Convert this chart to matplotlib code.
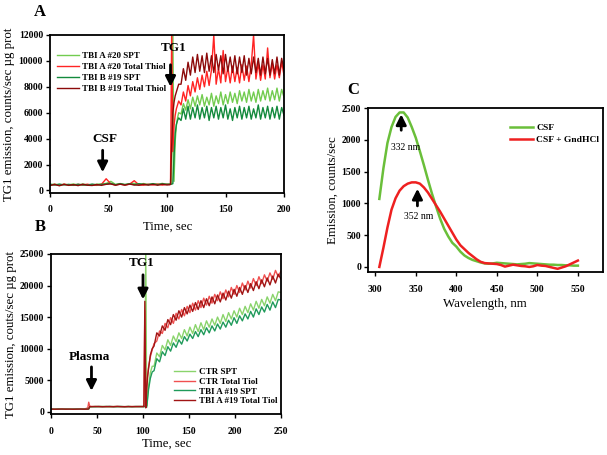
import numpy as np
import matplotlib
matplotlib.use("Agg")
import matplotlib.pyplot as plt

plt.rcParams['font.family'] = ['Liberation Serif', 'DejaVu Serif']
plt.rcParams['font.weight'] = 'bold'

# ---- panel A : TG1 emission vs time (CSF) ----
tA = list(range(0, 101, 4)) + [102, 103, 104, 105, 106, 107, 108, 109, 110] + list(range(112, 201, 2))

a_spt20 = [440, 490, 410, 480, 430, 500, 420, 490, 440, 410, 480, 500, 540, 700, 460, 530, 450, 520, 540, 460, 530, 450, 520, 470, 540, 460,
           500, 510, 520, 12500, 700, 3800, 5000, 5600, 6000,
           5900, 6700, 6200, 7000, 6300, 7200, 6500, 7300, 6600,
           7400, 6500, 7200, 6600, 7500, 6500, 7300, 6700, 7600,
           6600, 7400, 6700, 7600, 6800, 7500, 6700, 7700, 6900,
           7600, 6800, 7800, 6900, 7600, 6800, 7800, 6900, 7700,
           7000, 7900, 6900, 7700, 7000, 7900, 6900, 7800, 7200]
a_tot20 = [400, 470, 380, 480, 410, 390, 470, 400, 480, 410, 390, 470, 900, 500, 420, 490, 410, 480, 750, 430, 400, 480, 420, 490, 410, 480,
           450, 470, 12500, 3000, 5000, 5800, 6300, 6600, 6900,
           6600, 7600, 6900, 8100, 7300, 8400, 7600, 8700, 7800,
           8900, 8000, 9200, 8100, 9300, 12000, 8200, 9400, 8300,
           10800, 8400, 9500, 8300, 9600, 8400, 9500, 8300, 9700,
           8500, 9600, 8400, 9700, 12000, 8600, 9800, 8500, 9700,
           8600, 11000, 8700, 9800, 8600, 9700, 8700, 9900, 8900]
a_spt19 = [480, 410, 490, 420, 470, 400, 480, 420, 410, 490, 430, 460, 500, 540, 440, 520, 450, 510, 440, 520, 460, 450, 520, 440, 510, 470,
           480, 470, 490, 520, 2600, 4400, 5100, 5400, 5600,
           5400, 6300, 5500, 6500, 5500, 6400, 5600, 6600, 5500,
           6400, 5600, 6500, 5400, 6400, 5600, 6500, 5500, 6400,
           5600, 6600, 5500, 6300, 5400, 6400, 5600, 6500, 5500,
           6400, 5600, 6500, 5500, 6300, 5600, 6600, 5500, 6400,
           5600, 6500, 5500, 6400, 5600, 6500, 5500, 6400, 5800]
a_tot19 = [380, 460, 360, 470, 390, 450, 370, 480, 400, 380, 460, 390, 470, 500, 400, 480, 410, 490, 420, 400, 480, 410, 470, 400, 480, 420,
           440, 460, 3500, 6000, 6800, 7300, 7600, 7900, 8200,
           8200, 9400, 8500, 9900, 8900, 10300, 9100, 10500, 9200,
           10400, 9100, 10600, 9200, 10400, 9100, 10500, 9300, 10400,
           9000, 10500, 9200, 10300, 9100, 10400, 9000, 10300, 9100,
           10400, 8900, 10200, 9000, 10300, 9100, 10200, 8900, 10300,
           9000, 10200, 8900, 10100, 9000, 10300, 8900, 10200, 9300]
a_labels = ["TBI A #20 SPT", "TBI A #20 Total Thiol", "TBI B #19 SPT", "TBI B #19 Total Thiol"]

# ---- panel B : TG1 emission vs time (plasma) ----
tB = (list(range(0, 41, 4)) + [41, 42] + list(range(44, 101, 4)) +
      [101, 102, 103, 104, 105, 106, 108, 110] + list(range(112, 251, 3)))

b_ctr_spt = [420, 390, 410, 380, 420, 400, 390, 410, 380, 420, 400, 450, 750,
             780, 820, 790, 830, 800, 770, 820, 790, 810, 780, 830, 800, 790, 820, 800,
             800, 820, 26000, 900, 2500, 4000, 6200, 7200,
             7200, 9300, 8700, 10500, 9800, 11400, 10500, 12000, 11100, 12500,
             11600, 13000, 12000, 13400, 12400, 13800, 12700, 14100, 13000, 14400,
             13400, 14700, 13700, 15000, 14000, 15400, 14300, 15700, 14700, 16000,
             15000, 16400, 15400, 16700, 15700, 17100, 16100, 17500, 16400, 17800,
             16800, 18200, 17200, 18600, 17600, 19000, 18900]
b_ctr_tot = [390, 420, 380, 410, 400, 380, 420, 390, 410, 400, 600, 1500, 900,
             820, 790, 830, 800, 780, 820, 800, 830, 790, 810, 780, 820, 800, 830, 790,
             810, 16000, 1200, 4000, 5800, 7000, 8700, 9800,
             10800, 11200, 12800, 12400, 14000, 13300, 14900, 14000, 15600, 14700,
             16200, 15200, 16700, 15700, 17200, 16100, 17600, 16500, 18000, 16900,
             18300, 17200, 18600, 17600, 19000, 17900, 19300, 18200, 19700, 18600,
             20000, 18900, 20400, 19300, 20700, 19600, 21100, 20000, 21400, 20300,
             21700, 20700, 22000, 21000, 22400, 21400, 22300]
b_tbi_spt = [400, 380, 420, 390, 410, 380, 400, 420, 390, 410, 400, 420, 760,
             800, 780, 820, 790, 810, 830, 780, 800, 820, 790, 810, 780, 820, 800, 810,
             800, 810, 800, 700, 2000, 3500, 5300, 6300,
             6500, 8400, 7900, 9500, 8900, 10300, 9600, 10900, 10200, 11400,
             10700, 11900, 11200, 12300, 11600, 12700, 11900, 13000, 12200, 13300,
             12500, 13600, 12800, 13900, 13100, 14200, 13400, 14500, 13700, 14900,
             14000, 15200, 14400, 15500, 14700, 15900, 15000, 16300, 15400, 16600,
             15800, 17000, 16100, 17400, 16500, 17800, 17700]
b_tbi_tot = [410, 380, 400, 420, 390, 410, 380, 400, 420, 390, 410, 450, 780,
             790, 830, 800, 780, 820, 800, 790, 830, 800, 780, 820, 790, 810, 800, 820,
             820, 17500, 600, 3500, 5500, 6800, 9000, 10000,
             10400, 12500, 12000, 13600, 12900, 14600, 13800, 15400, 14500, 16000,
             15000, 16500, 15500, 16900, 15900, 17300, 16200, 17600, 16500, 17900,
             16800, 18200, 17100, 18500, 17400, 18800, 17700, 19100, 18000, 19400,
             18300, 19700, 18600, 20000, 18900, 20300, 19200, 20600, 19500, 20900,
             19800, 21200, 20100, 21500, 20400, 21800, 21000]
b_labels = ["CTR SPT", "CTR Total Tiol", "TBI A #19 SPT", "TBI A #19 Total Tiol"]

# ---- panel C : emission spectra ----
wl = list(range(305, 551, 5))
c_csf = [1070, 1550, 1950, 2200, 2360, 2430, 2430, 2350, 2200, 2030,
         1820, 1600, 1370, 1150, 950, 760, 600, 480, 380, 320,
         240, 180, 140, 110, 90, 70, 55, 50, 55, 65,
         60, 55, 50, 45, 40, 45, 50, 60, 55, 50,
         45, 40, 35, 35, 30, 30, 25, 25, 20, 20]
c_gnd = [0, 300, 620, 900, 1080, 1200, 1270, 1310, 1330, 1330,
         1310, 1250, 1170, 1070, 970, 870, 760, 650, 540, 430,
         340, 280, 220, 170, 120, 80, 60, 55, 50, 45,
         30, 5, 20, 35, 25, 15, 10, 0, 10, 30,
         20, 15, 0, -15, -30, -10, 10, 40, 70, 100]
c_labels = ["CSF", "CSF + GndHCl"]

trace_cols = ['#72cc50', '#ff2424', '#138a3c', '#8c0a0a']
trace_cols_b = ['#8ad46c', '#f05050', '#1f9a5a', '#a01414']

W, H = 607, 455
fig = plt.figure(figsize=(W / 100, H / 100), dpi=100)

def px_axes(l, t, r, b):
    return fig.add_axes([l / W, 1 - b / H, (r - l) / W, (b - t) / H])

def style(ax):
    for s in ax.spines.values():
        s.set_linewidth(1.3)
        s.set_color('black')
    ax.tick_params(direction='out', length=3, width=1, labelsize=7)
    ax.tick_params(axis='x', pad=6)
    ax.tick_params(axis='y', pad=2)

def arrow(ax, x, y0, y1):
    ax.annotate('', xy=(x, y1), xytext=(x, y0),
                arrowprops=dict(arrowstyle='-|>,head_width=0.3,head_length=0.6',
                                lw=2, color='black', shrinkA=0, shrinkB=0))

# panel A
axA = px_axes(50, 35, 284, 193)
for ys, c, lab in zip([a_spt20, a_tot20, a_spt19, a_tot19], trace_cols, a_labels):
    axA.plot(tA, ys, color=c, lw=1.0, label=lab)
axA.set_xlim(0, 200)
axA.set_ylim(-200, 12000)
axA.set_xticks([0, 50, 100, 150, 200])
axA.set_yticks(range(0, 12001, 2000))
style(axA)
axA.set_xlabel("Time, sec", fontsize=9.3)
axA.xaxis.set_label_coords(0.504, -0.175)
axA.set_ylabel("TG1 emission, counts/sec µg prot", fontsize=9.3)
axA.yaxis.set_label_coords(-0.15, 0.5)
axA.legend(loc='upper left', bbox_to_anchor=(0.03, 0.895), frameon=False, fontsize=6.5,
           handlelength=2.4, handletextpad=0.4, labelspacing=0.3, borderpad=0, borderaxespad=0)
axA.text(106, 11000, "TG1", ha='center', va='center', fontsize=9.5)
arrow(axA, 103, 9700, 8000)
axA.text(47, 4000, "CSF", ha='center', va='center', fontsize=9.5)
arrow(axA, 45, 3100, 1400)

# panel B
axB = px_axes(51, 254, 281, 414)
for ys, c, lab in zip([b_ctr_spt, b_ctr_tot, b_tbi_spt, b_tbi_tot], trace_cols_b, b_labels):
    axB.plot(tB, ys, color=c, lw=1.0, label=lab)
axB.set_xlim(0, 250)
axB.set_ylim(-370, 25000)
axB.set_xticks(range(0, 251, 50))
axB.set_yticks(range(0, 25001, 5000))
style(axB)
axB.set_xlabel("Time, sec", fontsize=9.3)
axB.xaxis.set_label_coords(0.504, -0.15)
axB.set_ylabel("TG1 emission, couts/sec µg prot", fontsize=9.3)
axB.yaxis.set_label_coords(-0.148, 0.5)
axB.legend(loc='lower right', bbox_to_anchor=(0.985, 0.055), frameon=False, fontsize=6.5,
           handlelength=2.4, handletextpad=0.4, labelspacing=0.15, borderpad=0, borderaxespad=0)
axB.text(99, 23500, "TG1", ha='center', va='center', fontsize=9.5)
arrow(axB, 100, 21700, 17800)
axB.text(42, 8700, "Plasma", ha='center', va='center', fontsize=9.5)
arrow(axB, 44, 7100, 3300)

# panel C
axC = px_axes(368, 108, 603, 272)
axC.plot(wl, c_csf, color='#6abf3a', lw=1.8, label=c_labels[0])
axC.plot(wl, c_gnd, color='#ee2020', lw=1.8, label=c_labels[1])
axC.set_xlim(291, 581)
axC.set_ylim(-80, 2500)
axC.set_xticks(range(300, 551, 50))
axC.set_yticks(range(0, 2501, 500))
style(axC)
axC.set_xlabel("Wavelength, nm", fontsize=9.3)
axC.xaxis.set_label_coords(0.498, -0.16)
axC.set_ylabel("Emission, counts/sec", fontsize=9.3)
axC.yaxis.set_label_coords(-0.125, 0.5)
axC.legend(loc='upper left', bbox_to_anchor=(0.604, 0.905), frameon=False, fontsize=6.8,
           handlelength=2.4, handletextpad=0.4, labelspacing=0.35, borderpad=0, borderaxespad=0)
arrow(axC, 332, 2150, 2400)
axC.text(337, 1880, "332 nm", ha='center', va='center', fontsize=7, fontweight='normal')
arrow(axC, 352, 960, 1230)
axC.text(353, 790, "352 nm", ha='center', va='center', fontsize=7, fontweight='normal')

fig.text(40 / W, 1 - 12 / H, "A", ha='center', va='center', fontsize=12)
fig.text(40 / W, 1 - 227 / H, "B", ha='center', va='center', fontsize=12)
fig.text(353 / W, 1 - 90 / H, "C", ha='center', va='center', fontsize=12)

fig.savefig("out.png", dpi=100)
